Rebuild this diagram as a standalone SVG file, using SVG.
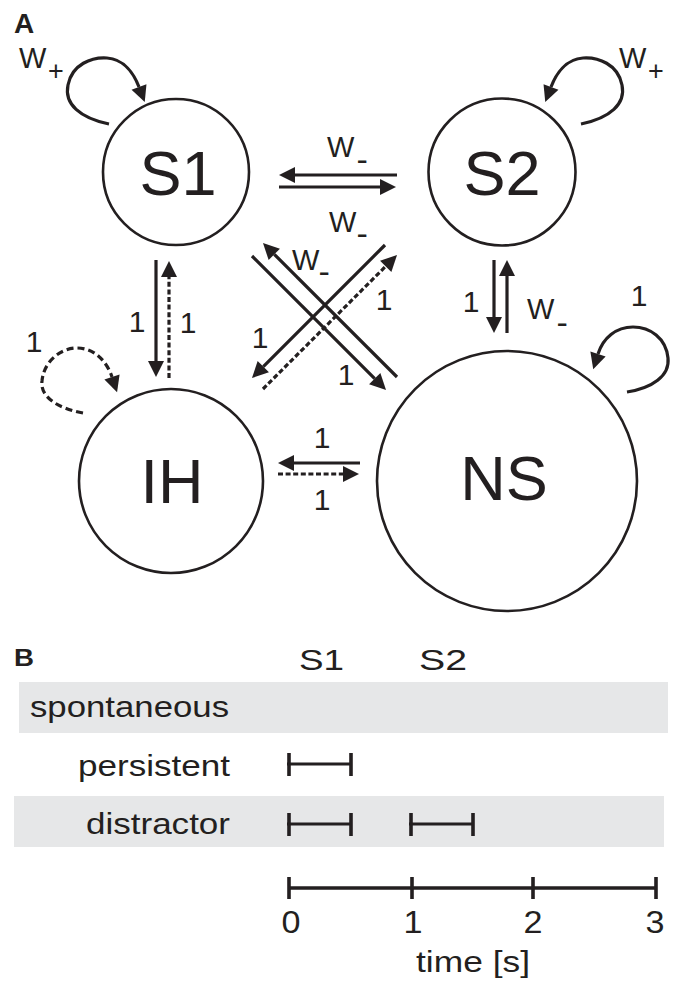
<svg xmlns="http://www.w3.org/2000/svg" width="678" height="989" viewBox="0 0 678 989">
  <style>
    text { font-family: "Liberation Sans", Arial, Helvetica, sans-serif; fill: #231f20; }
    .node { fill: none; stroke: #231f20; stroke-width: 2.6; }
    .big { font-size: 63px; text-anchor: middle; }
    .lbl { font-size: 30px; text-anchor: middle; }
    .w { font-size: 29px; }
    .sub { font-size: 34px; }
    .plus { font-size: 27px; }
    .panel { font-weight: bold; }
    .edge { fill: none; stroke: #231f20; stroke-width: 3.2; marker-end: url(#ah); }
    .dash { stroke-dasharray: 5 2.6; }
    .loopdash { stroke-dasharray: 7 4; }
    .band { fill: #e6e7e8; }
    .bar { fill: none; stroke: #231f20; stroke-width: 3; }
    .tick { fill: none; stroke: #231f20; stroke-width: 3.6; }
    .row { font-size: 30px; }
    .num { font-size: 31px; text-anchor: middle; }
  </style>
  <defs>
    <!-- filled arrowhead; its base sits at the path end -->
    <marker id="ah" markerUnits="userSpaceOnUse" viewBox="0 0 16 16" markerWidth="16" markerHeight="16" refX="0" refY="8" orient="auto" overflow="visible">
      <path d="M0,0 L16,8 L0,16 z" fill="#231f20"/>
    </marker>
  </defs>

  <!-- Panel A: network -->
  <text class="panel" x="14" y="33" font-size="28">A</text>

  <g id="S1">
    <circle class="node" cx="176" cy="172" r="73"/>
    <text class="big" x="178" y="195">S1</text>
  </g>
  <g id="S2">
    <circle class="node" cx="502" cy="172" r="73.5"/>
    <text class="big" x="502" y="195">S2</text>
  </g>
  <g id="IH">
    <circle class="node" cx="171" cy="481" r="92"/>
    <text class="big" x="172" y="503" font-size="64">IH</text>
  </g>
  <g id="NS">
    <circle class="node" cx="507" cy="481" r="130"/>
    <text class="big" x="504" y="500" font-size="64">NS</text>
  </g>

  <g id="connectors">
    <!-- self loops -->
    <path class="edge" d="M109,124 C80,118 64,104 68,85 C72,64 92,57 107,58 C124,59 134,74 139,87"/>
    <path class="edge" d="M581,124 C610,118 626,104 622,85 C618,64 598,57 583,58 C566,59 556,74 551,87"/>
    <path class="edge loopdash" d="M83,413 C56,408 40,396 42,381 C44,360 62,348 77,348 C95,348 107,362 112,377"/>
    <path class="edge" d="M627,392 C652,388 670,376 668,358 C666,338 650,327 633,327 C616,327 603,338 598,354"/>

    <!-- S1 <-> S2 -->
    <path class="edge" d="M397,175 H295"/>
    <path class="edge" d="M279,187 H380"/>
    <!-- S1 <-> IH -->
    <path class="edge" d="M156,260 V361"/>
    <path class="edge dash" d="M169,378 V277"/>
    <!-- NS <-> IH -->
    <path class="edge" d="M360,463 H294"/>
    <path class="edge dash" d="M278,474 H343"/>
    <!-- S2 <-> NS -->
    <path class="edge" d="M494,260 V317"/>
    <path class="edge" d="M507,333 V276"/>
    <!-- diagonals -->
    <path class="edge" d="M252,256 L374.7,378.7"/>
    <path class="edge" d="M397,377 L274.3,254.3"/>
    <path class="edge" d="M385,245 L263.3,366.7"/>
    <path class="edge dash" d="M263,389 L385.7,266.3"/>
  </g>

  <g id="weights">
    <text class="w" x="19" y="68">W<tspan class="plus" x="48" y="80">+</tspan></text>
    <text class="w" x="619" y="68">W<tspan class="plus" x="648" y="80">+</tspan></text>
    <text class="w" x="327" y="157">W<tspan class="sub" x="356.5" y="171">-</tspan></text>
    <text class="w" x="329" y="232">W<tspan class="sub" x="356.5" y="245">-</tspan></text>
    <text class="w" x="292" y="270">W<tspan class="sub" x="318.5" y="283">-</tspan></text>
    <text class="w" x="527" y="319">W<tspan class="sub" x="556.5" y="334">-</tspan></text>

    <text class="lbl" x="260" y="348">1</text>
    <text class="lbl" x="384" y="310">1</text>
    <text class="lbl" x="346" y="385">1</text>
    <text class="lbl" x="137" y="332">1</text>
    <text class="lbl" x="188" y="333">1</text>
    <text class="lbl" x="34" y="352">1</text>
    <text class="lbl" x="322" y="448">1</text>
    <text class="lbl" x="322" y="510">1</text>
    <text class="lbl" x="471" y="312">1</text>
    <text class="lbl" x="639" y="306">1</text>
  </g>

  <!-- Panel B: protocols -->
  <text class="panel" x="14" y="666" font-size="23" textLength="20" lengthAdjust="spacingAndGlyphs">B</text>
  <text class="row" x="299" y="670" font-size="31" textLength="45" lengthAdjust="spacingAndGlyphs">S1</text>
  <text class="row" x="419" y="670" font-size="31" textLength="48" lengthAdjust="spacingAndGlyphs">S2</text>

  <rect class="band" x="19" y="682" width="649" height="51"/>
  <rect class="band" x="14" y="796" width="650" height="51"/>

  <text class="row" x="30" y="717" textLength="199" lengthAdjust="spacingAndGlyphs">spontaneous</text>
  <text class="row" x="78" y="776" textLength="152" lengthAdjust="spacingAndGlyphs">persistent</text>
  <text class="row" x="86" y="834" textLength="144" lengthAdjust="spacingAndGlyphs">distractor</text>

  <g id="intervals">
    <path class="bar" d="M287,764 H352"/>
    <path class="tick" d="M289,753 V776 M351,753 V776"/>
    <path class="bar" d="M287,824 H352"/>
    <path class="tick" d="M289,813 V836 M351,813 V836"/>
    <path class="bar" d="M409,824 H474"/>
    <path class="tick" d="M411,813 V836 M473,813 V836"/>
  </g>

  <g id="time-axis">
    <path class="tick" d="M289,888 H657 M289,877 V899 M412,877 V899 M533,877 V899 M656,877 V899"/>
    <text class="num" x="291" y="933" textLength="19" lengthAdjust="spacingAndGlyphs">0</text>
    <text class="num" x="413" y="933" textLength="19" lengthAdjust="spacingAndGlyphs">1</text>
    <text class="num" x="533" y="933" textLength="19" lengthAdjust="spacingAndGlyphs">2</text>
    <text class="num" x="655" y="933" textLength="19" lengthAdjust="spacingAndGlyphs">3</text>
    <text class="row" x="416" y="972" font-size="31" textLength="114" lengthAdjust="spacingAndGlyphs">time [s]</text>
  </g>
</svg>
